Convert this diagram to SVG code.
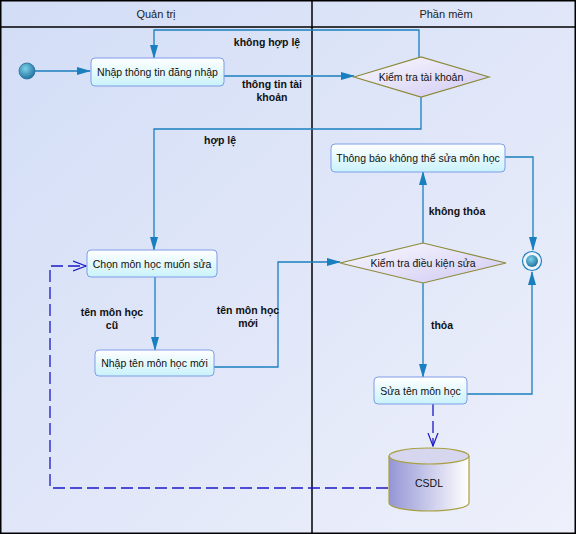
<svg xmlns="http://www.w3.org/2000/svg" width="576" height="534" viewBox="0 0 576 534">
<defs>
<linearGradient id="bg" x1="0" y1="0" x2="1" y2="1"><stop offset="0" stop-color="#d2ddf6"/><stop offset="1" stop-color="#eef0fb"/></linearGradient>
<linearGradient id="box" x1="0" y1="0" x2="0" y2="1"><stop offset="0" stop-color="#ffffff"/><stop offset="1" stop-color="#c9f2fa"/></linearGradient>
<linearGradient id="dia" x1="0" y1="0" x2="1" y2="1"><stop offset="0" stop-color="#fbfbff"/><stop offset="1" stop-color="#cfc8f2"/></linearGradient>
<linearGradient id="cyl" x1="0" y1="0" x2="1" y2="0"><stop offset="0" stop-color="#9496d6"/><stop offset="1" stop-color="#ffffff"/></linearGradient>
<radialGradient id="ball" cx="0.4" cy="0.35" r="0.7"><stop offset="0" stop-color="#7fd0e8"/><stop offset="1" stop-color="#1a6f9e"/></radialGradient>
<marker id="arr" markerWidth="14" markerHeight="10" refX="13" refY="5" orient="auto" markerUnits="userSpaceOnUse"><path d="M0,1 L14,5 L0,9 Z" fill="#1a7fbf"/></marker>
<marker id="open" markerWidth="14" markerHeight="12" refX="13" refY="6" orient="auto" markerUnits="userSpaceOnUse"><path d="M0,1 L13,6 L0,11" fill="none" stroke="#1a1ac8" stroke-width="1.2"/></marker>
</defs>
<style>
.lane{fill:none;stroke:#000;stroke-width:1.5}
.hdr{font-family:"Liberation Sans",Arial,sans-serif;font-size:11px;fill:#222;text-anchor:middle}
.node rect{fill:url(#box);stroke:#7e9ce8;stroke-width:1}
.node text,.t{font-family:"Liberation Sans",Arial,sans-serif;font-size:10.5px;fill:#111;text-anchor:middle}
.dnode polygon{fill:url(#dia);stroke:#8c8a3a;stroke-width:1.2}
.lbl{font-family:"Liberation Sans",Arial,sans-serif;font-size:10.5px;font-weight:bold;fill:#111;text-anchor:middle}
.c{fill:none;stroke:#1a7fbf;stroke-width:1.3}
.d{fill:none;stroke:#1a1ac8;stroke-width:1.3;stroke-dasharray:12,5}
</style>
<rect x="0" y="0" width="576" height="534" fill="url(#bg)"/>
<rect x="0.75" y="0.75" width="574.5" height="532.5" class="lane"/>
<line x1="0" y1="27" x2="576" y2="27" stroke="#000" stroke-width="1.5"/>
<line x1="312" y1="0" x2="312" y2="534" stroke="#000" stroke-width="1.5"/>
<text class="hdr" x="156" y="18">Quản trị</text>
<text class="hdr" x="446" y="18">Phần mềm</text>

<g id="connectors">
<path class="c" d="M35,71 H90" marker-end="url(#arr)"/>
<path class="c" d="M224,76 H354" marker-end="url(#arr)"/>
<path class="c" d="M419,58 V30 H154 V58" marker-end="url(#arr)"/>
<path class="c" d="M421,97 V129 H154 V250" marker-end="url(#arr)"/>
<path class="c" d="M155,277 V350" marker-end="url(#arr)"/>
<path class="c" d="M214,367 H278 V262 H340" marker-end="url(#arr)"/>
<path class="c" d="M423,243 V172" marker-end="url(#arr)"/>
<path class="c" d="M505,157 H533 V250" marker-end="url(#arr)"/>
<path class="c" d="M423,283 V377" marker-end="url(#arr)"/>
<path class="c" d="M467,394 H532 V272" marker-end="url(#arr)"/>
<path class="d" d="M433,404 V446" marker-end="url(#open)"/>
<path class="d" d="M388,488 H50 V266 H86" marker-end="url(#open)"/>
<text class="lbl" x="267" y="46">không hợp lệ</text>
<text class="lbl" x="272" y="88">thông tin tài</text>
<text class="lbl" x="272" y="101">khoản</text>
<text class="lbl" x="220" y="144">hợp lệ</text>
<text class="lbl" x="112" y="316">tên môn học</text>
<text class="lbl" x="112" y="329">cũ</text>
<text class="lbl" x="248" y="314">tên môn học</text>
<text class="lbl" x="248" y="327">mới</text>
<text class="lbl" x="457" y="215">không thỏa</text>
<text class="lbl" x="442" y="329">thỏa</text>
</g>

<g id="start"><circle cx="27" cy="71" r="8" fill="url(#ball)" stroke="#2a6f9a" stroke-width="0.8"/></g>
<g id="end"><circle cx="532" cy="261" r="9.5" fill="#eef4fc" stroke="#1a7fbf" stroke-width="1.2"/><circle cx="532" cy="261" r="6" fill="url(#ball)"/></g>

<g id="n_login" class="node"><rect x="91" y="58" width="133" height="28" rx="4"/><text x="157.5" y="76">Nhập thông tin đăng nhập</text></g>
<g id="d_account" class="dnode"><polygon points="354,77 421,57 489,77 421,97"/><text class="t" x="421" y="81">Kiểm tra tài khoản</text></g>
<g id="n_choose" class="node"><rect x="87" y="250" width="130" height="27" rx="4"/><text x="152" y="268">Chọn môn học muốn sửa</text></g>
<g id="n_enter" class="node"><rect x="95" y="350" width="119" height="26" rx="4"/><text x="154.5" y="367">Nhập tên môn học mới</text></g>
<g id="d_cond" class="dnode"><polygon points="340,263 423,243 506,263 423,283"/><text class="t" x="423" y="267">Kiểm tra điều kiện sửa</text></g>
<g id="n_notify" class="node"><rect x="331" y="144" width="174" height="28" rx="4"/><text x="418" y="162">Thông báo không thể sửa môn học</text></g>
<g id="n_edit" class="node"><rect x="374" y="377" width="93" height="27" rx="4"/><text x="420.5" y="395">Sửa tên môn học</text></g>
<g id="db"><path d="M389,456 V503 A40,8 0 0 0 469,503 V456" fill="url(#cyl)" stroke="#a8a040" stroke-width="1.2"/><ellipse cx="429" cy="456" rx="40" ry="8" fill="#d6d6ee" stroke="#a8a040" stroke-width="1.2"/><text class="t" x="429" y="487">CSDL</text></g>
</svg>
